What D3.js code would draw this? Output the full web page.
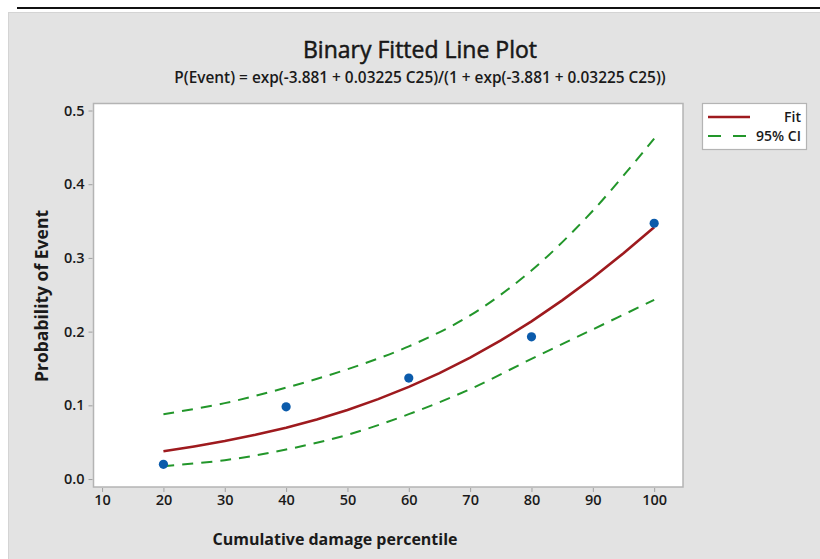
<!DOCTYPE html>
<html>
<head>
<meta charset="utf-8">
<script src="https://cdn.jsdelivr.net/npm/d3@7"></script>
<style>
  html, body { margin: 0; padding: 0; background: #ffffff; }
  svg { display: block; }
  text { font-family: "Open Sans", "Noto Sans", sans-serif; fill: #1a1a1a; }
</style>
</head>
<body>
<svg id="chart" width="820" height="559"></svg>
<script>
// Observed event proportions at each damage percentile
const obsX = [20, 40, 60, 80, 100];
const obsP = [0.020, 0.098, 0.137, 0.193, 0.347];

// Fitted logistic probability along the percentile range
const fitX = [20, 25, 30, 35, 40, 45, 50, 55, 60, 65, 70, 75, 80, 85, 90, 95, 100];
const fitP = [0.0378, 0.0442, 0.0515, 0.0600, 0.0697, 0.0809, 0.0938, 0.1084, 0.1250,
              0.1437, 0.1647, 0.1881, 0.2140, 0.2424, 0.2732, 0.3064, 0.3416];

// 95% confidence band for the fit
const ciX = [20, 30, 40, 50, 60, 70, 80, 90, 100];
const ciUpper = [0.088, 0.103, 0.124, 0.149, 0.180, 0.222, 0.283, 0.364, 0.462];
const ciLower = [0.0175, 0.0255, 0.040, 0.060, 0.088, 0.122, 0.163, 0.203, 0.243];

// Axis ticks
const xTicks = [10, 20, 30, 40, 50, 60, 70, 80, 90, 100];
const yTicks = [0.0, 0.1, 0.2, 0.3, 0.4, 0.5];

const titleText = "Binary Fitted Line Plot";
const subtitleText = "P(Event) = exp(-3.881 + 0.03225 C25)/(1 + exp(-3.881 + 0.03225 C25))";
const xLabel = "Cumulative damage percentile";
const yLabel = "Probability of Event";
const legendItems = ["Fit", "95% CI"];

const svg = d3.select("#chart");

// Page frame: rule along the top and the grey graph window
svg.append("line").attr("x1", 17).attr("x2", 820).attr("y1", 8).attr("y2", 8)
  .attr("stroke", "#111").attr("stroke-width", 2);
svg.append("rect").attr("x", 8.5).attr("y", 12.5).attr("width", 815).attr("height", 550)
  .attr("fill", "#e3e3e3").attr("stroke", "#d4d4d4").attr("stroke-width", 1);

const plot = { left: 93.5, top: 103.5, right: 683, bottom: 487 };

const x = d3.scaleLinear().domain([8.6, 104.7]).range([plot.left, plot.right]);
const y = d3.scaleLinear().domain([-0.0108, 0.5095]).range([plot.bottom, plot.top]);

svg.append("rect")
  .attr("x", plot.left).attr("y", plot.top)
  .attr("width", plot.right - plot.left).attr("height", plot.bottom - plot.top)
  .attr("fill", "#ffffff").attr("stroke", "#b4b4b4").attr("stroke-width", 1.5);

// Axes
const xAxis = svg.append("g").attr("transform", `translate(0,${plot.bottom + 1})`)
  .call(d3.axisBottom(x).tickValues(xTicks).tickSize(4).tickPadding(3).tickFormat(d3.format("d")));
const yAxis = svg.append("g").attr("transform", `translate(${plot.left - 1},0)`)
  .call(d3.axisLeft(y).tickValues(yTicks).tickSize(4).tickPadding(4).tickFormat(d3.format(".1f")));
[xAxis, yAxis].forEach(g => {
  g.select(".domain").remove();
  g.selectAll(".tick line").attr("stroke", "#a0a0a0");
  g.selectAll(".tick text").style("font-size", "14.5px").style("font-weight", 600).attr("fill", "#1a1a1a");
});

// Confidence band lines
const ciLine = d3.line().curve(d3.curveCatmullRom);
const upperPts = ciX.map((d, i) => [x(d), y(ciUpper[i])]);
const lowerPts = ciX.map((d, i) => [x(d), y(ciLower[i])]);
[upperPts, lowerPts].forEach(pts => {
  svg.append("path").attr("d", ciLine(pts))
    .attr("fill", "none").attr("stroke", "#22962a").attr("stroke-width", 2)
    .attr("stroke-dasharray", "11,8");
});

// Fitted curve
const fitLine = d3.line().curve(d3.curveLinear);
svg.append("path").attr("d", fitLine(fitX.map((d, i) => [x(d), y(fitP[i])])))
  .attr("fill", "none").attr("stroke", "#9e1a1e").attr("stroke-width", 2.6);

// Observed points
svg.append("g").selectAll("circle").data(obsX).join("circle")
  .attr("cx", d => x(d)).attr("cy", (d, i) => y(obsP[i])).attr("r", 4.6)
  .attr("fill", "#0b5bab");

// Titles
svg.append("text").attr("x", 420).attr("y", 58).attr("text-anchor", "middle")
  .style("font-size", "23px").style("font-weight", 500).attr("fill", "#111")
  .attr("stroke", "#111").attr("stroke-width", 0.5).text(titleText);
svg.append("text").attr("x", 420).attr("y", 83).attr("text-anchor", "middle")
  .style("font-size", "15.4px").style("font-weight", 600).text(subtitleText);

// Axis labels
svg.append("text").attr("x", 335).attr("y", 545).attr("text-anchor", "middle")
  .style("font-size", "16px").style("font-weight", 700).text(xLabel);
svg.append("text").attr("transform", "translate(48,296) rotate(-90)").attr("text-anchor", "middle")
  .style("font-size", "17.5px").style("font-weight", 700).text(yLabel);

// Legend
const lg = svg.append("g");
lg.append("rect").attr("x", 702.5).attr("y", 103.5).attr("width", 104).attr("height", 46)
  .attr("fill", "#ffffff").attr("stroke", "#b4b4b4").attr("stroke-width", 1.2);
lg.append("line").attr("x1", 708).attr("x2", 750).attr("y1", 117).attr("y2", 117)
  .attr("stroke", "#9e1a1e").attr("stroke-width", 2.6);
lg.append("line").attr("x1", 708).attr("x2", 746).attr("y1", 136).attr("y2", 136)
  .attr("stroke", "#22962a").attr("stroke-width", 2).attr("stroke-dasharray", "13,12");
lg.selectAll("text.item").data(legendItems).join("text").attr("class", "item")
  .attr("x", 801).attr("y", (d, i) => 122 + i * 19).attr("text-anchor", "end")
  .style("font-size", "14px").style("font-weight", 600).text(d => d);
</script>
</body>
</html>
